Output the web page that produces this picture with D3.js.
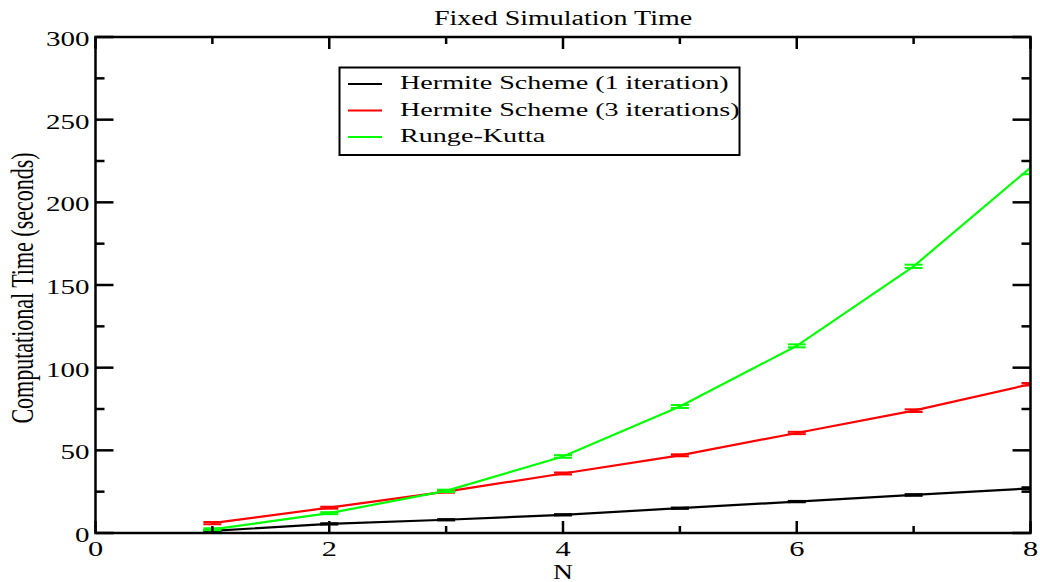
<!DOCTYPE html>
<html>
<head>
<meta charset="utf-8">
<script src="https://cdn.jsdelivr.net/npm/d3@7"></script>
<style>
  html, body { margin: 0; padding: 0; background: #fff; }
  svg { display: block; }
  text { font-family: "Liberation Serif", "Times New Roman", "DejaVu Serif", serif; fill: #000; }
</style>
</head>
<body>
<svg id="chart" width="1040" height="582"></svg>
<script>
// Number of bodies N
const nValues = [1, 2, 3, 4, 5, 6, 7, 8];

// Computational time (seconds) for each integrator
const hermite1 = [1.3, 5.5, 8, 11, 15, 19, 23, 27];
const hermite3 = [6, 15.3, 25, 36, 47, 60.5, 74, 90];
const rungeKutta = [2.2, 12, 25.5, 46.3, 76.5, 113.2, 161.3, 221];

// Error-bar half widths (seconds)
const hermite1Err = [0.4, 0.4, 0.4, 0.4, 0.4, 0.4, 0.5, 0.6];
const hermite3Err = [0.7, 0.6, 0.6, 0.6, 0.6, 0.7, 0.8, 0.8];
const rungeKuttaErr = [0.6, 0.6, 0.7, 0.8, 0.9, 0.9, 1.0, 4.0];

const seriesNames = ["Hermite Scheme (1 iteration)", "Hermite Scheme (3 iterations)", "Runge-Kutta"];
const seriesColors = ["#000000", "#ff0000", "#00ff00"];

const xTicksMajor = [0, 2, 4, 6, 8];
const xTicksMinor = [1, 3, 5, 7];
const yTicksMajor = [0, 50, 100, 150, 200, 250, 300];
const yTicksMinor = [25, 75, 125, 175, 225, 275];

const titleText = "Fixed Simulation Time";
const xLabelText = "N";
const yLabelText = "Computational Time (seconds)";

const svg = d3.select("#chart");
const pLeft = 95.5, pRight = 1030.5, pTop = 37, pBottom = 533;
const SX = 1.38; // horizontal glyph stretch

const x = d3.scaleLinear().domain([0, 8]).range([pLeft, pRight]);
const y = d3.scaleLinear().domain([0, 300]).range([pBottom, pTop]);

svg.append("defs").append("clipPath").attr("id", "plotClip")
  .append("rect").attr("x", pLeft).attr("y", pTop).attr("width", pRight - pLeft).attr("height", pBottom - pTop);

const series = [
  { name: seriesNames[0], color: seriesColors[0], vals: hermite1, err: hermite1Err },
  { name: seriesNames[1], color: seriesColors[1], vals: hermite3, err: hermite3Err },
  { name: seriesNames[2], color: seriesColors[2], vals: rungeKutta, err: rungeKuttaErr }
];

// Data lines and error bars
const plot = svg.append("g").attr("clip-path", "url(#plotClip)");
const line = d3.line().x(d => x(d.n)).y(d => y(d.v));
series.forEach(s => {
  const pts = nValues.map((n, i) => ({ n, v: s.vals[i], e: s.err[i] }));
  plot.append("path").datum(pts)
    .attr("d", line).attr("fill", "none")
    .attr("stroke", s.color).attr("stroke-width", 2.2);
  const eb = plot.append("g").attr("stroke", s.color).attr("stroke-width", 2);
  pts.forEach(p => {
    eb.append("line").attr("x1", x(p.n)).attr("x2", x(p.n)).attr("y1", y(p.v - p.e)).attr("y2", y(p.v + p.e));
    [p.v - p.e, p.v + p.e].forEach(v => {
      eb.append("line").attr("x1", x(p.n) - 9).attr("x2", x(p.n) + 9).attr("y1", y(v)).attr("y2", y(v));
    });
  });
});

// Frame and inward ticks
const axes = svg.append("g").attr("stroke", "#000").attr("stroke-width", 2.5);
axes.append("rect").attr("x", pLeft).attr("y", pTop).attr("width", pRight - pLeft).attr("height", pBottom - pTop).attr("fill", "none");
const tick = (x1, y1, x2, y2) => axes.append("line").attr("x1", x1).attr("y1", y1).attr("x2", x2).attr("y2", y2);
xTicksMajor.forEach(t => { tick(x(t), pBottom, x(t), pBottom - 12); tick(x(t), pTop, x(t), pTop + 12); });
xTicksMinor.forEach(t => { tick(x(t), pBottom, x(t), pBottom - 7); tick(x(t), pTop, x(t), pTop + 7); });
yTicksMajor.forEach(t => { tick(pLeft, y(t), pLeft + 18, y(t)); tick(pRight, y(t), pRight - 18, y(t)); });
yTicksMinor.forEach(t => { tick(pLeft, y(t), pLeft + 9, y(t)); tick(pRight, y(t), pRight - 9, y(t)); });

// Text helper with horizontal stretch
function stretched(str, tx, ty, size, anchor, sx) {
  return svg.append("text")
    .attr("transform", `translate(${tx},${ty}) scale(${sx},1)`)
    .attr("text-anchor", anchor)
    .attr("font-size", size)
    .text(str);
}

xTicksMajor.forEach(t => stretched(d3.format("d")(t), x(t), 556, 22, "middle", SX));
yTicksMajor.forEach(t => stretched(d3.format("d")(t), 89.5, y(t) + 9, 21, "end", SX));

stretched(titleText, (pLeft + pRight) / 2, 25, 20, "middle", 1.4);
stretched(xLabelText, (pLeft + pRight) / 2, 579, 20, "middle", SX);

svg.append("text")
  .attr("transform", `translate(33,288) rotate(-90) scale(1,1.4)`)
  .attr("text-anchor", "middle")
  .attr("font-size", 22)
  .text(yLabelText);

// Legend
const legend = svg.append("g");
legend.append("rect").attr("x", 339.5).attr("y", 67.5).attr("width", 400).attr("height", 87.5)
  .attr("fill", "#fff").attr("stroke", "#000").attr("stroke-width", 2);
const rowY = [84, 110.5, 137];
const legendScale = 1.52;
series.forEach((s, i) => {
  legend.append("line").attr("x1", 348).attr("x2", 382).attr("y1", rowY[i]).attr("y2", rowY[i])
    .attr("stroke", s.color).attr("stroke-width", 2);
  legend.append("text")
    .attr("transform", `translate(400,${rowY[i] + 5}) scale(${legendScale},1)`)
    .attr("font-size", 18.5)
    .text(s.name);
});
</script>
</body>
</html>
